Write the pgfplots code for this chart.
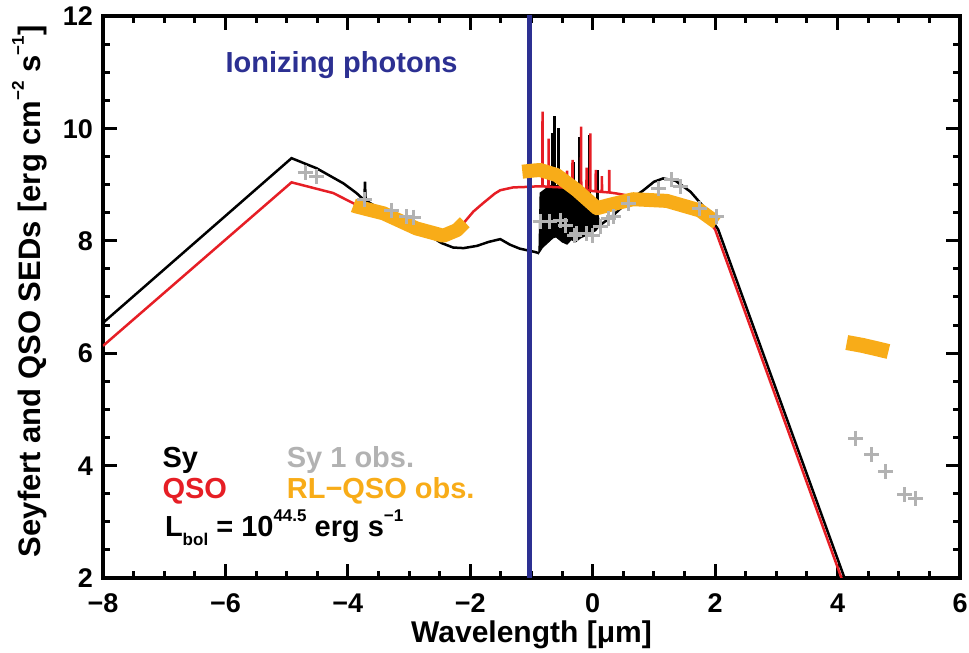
\documentclass[border=0pt]{standalone}
\usepackage{fontspec}
\setmainfont{Liberation Sans}
\usepackage{pgfplots}
\pgfplotsset{compat=1.18}
\definecolor{qred}{RGB}{230,30,37}
\definecolor{qorange}{RGB}{248,172,24}
\definecolor{qgray}{RGB}{178,178,178}
\definecolor{qblue}{RGB}{44,48,146}
\newcommand\sups[2][17bp]{\raisebox{0.52em}{\fontsize{#1}{#1}\selectfont #2}}
\newcommand\subs[2][17bp]{\raisebox{-0.3em}{\fontsize{#1}{#1}\selectfont #2}}
\begin{document}
\begin{tikzpicture}[font=\bfseries]
\useasboundingbox (-103bp,-75bp) rectangle (866bp,578bp);
\begin{axis}[
  at={(0,0)}, anchor=south west,
  scale only axis, width=857bp, height=562bp,
  xmin=-8, xmax=6, ymin=2, ymax=12,
  xtick={-8,-6,-4,-2,0,2,4,6},
  xticklabels={−8,−6,−4,−2,0,2,4,6},
  ytick={2,4,6,8,10,12},
  yticklabels={2,4,6,8,10,12},
  minor x tick num=3, minor y tick num=3,
  axis line style={line width=3.5bp},
  tick style={line width=3bp, black},
  major tick length=14bp, minor tick length=7bp,
  tick label style={font=\fontsize{27bp}{29bp}\selectfont\bfseries,
    text height=19.3bp, text depth=0pt, inner sep=0pt},
  xticklabel style={anchor=north, yshift=-15bp},
  yticklabel style={anchor=east, xshift=-10bp},
  label style={font=\fontsize{30bp}{32bp}\selectfont\bfseries},
  xlabel={Wavelength [μm]},
  ylabel={\fontsize{31bp}{33bp}\selectfont Seyfert and QSO SEDs [erg cm\sups[17bp]{−2} s\sups[17bp]{−1}]},
  xlabel style={at={(axis description cs:0.5,-0.101)}, anchor=center, inner sep=0pt},
  ylabel style={at={(axis description cs:-0.086,0.51)}, anchor=center},
  unbounded coords=jump,
]
% Sy (black) continuum
\addplot[black, line width=2.5bp] coordinates {
(-8,6.54) (-4.92,9.47) (-4.51,9.29) (-4.07,9.02) (-3.86,8.85) (-3.77,8.76)
(-3.73,8.74) (-3.72,9.05) (-3.71,8.72) (-3.5,8.58) (-3.2,8.42) (-2.9,8.25)
(-2.65,8.08) (-2.47,7.96) (-2.28,7.88) (-2.11,7.87) (-1.89,7.91) (-1.7,7.98)
(-1.51,8.03) (-1.35,7.93) (-1.19,7.86) (-0.94,7.80) (-0.88,7.78)
};
% Sy line forest
\addplot[black, fill=black, line width=1bp] coordinates {
(-0.88,7.78) (-0.86,8.85) (-0.7,8.98) (-0.5,8.98) (-0.3,8.93) (-0.15,8.83)
(0.0,8.68) (0.08,8.5) (0.12,8.3) (0.12,8.28) (0.05,8.18) (0.0,8.15)
(-0.1,8.10) (-0.2,8.05) (-0.28,7.98) (-0.35,8.02) (-0.42,7.94) (-0.5,7.98)
(-0.6,8.07) (-0.65,8.05) (-0.75,7.95) (-0.82,7.88) (-0.88,7.78)
} -- cycle;
\addplot[black, line width=3bp] coordinates {
(-0.65,8.7) (-0.65,9.91) (-0.65,nan)
(-0.62,8.7) (-0.62,10.22) (-0.62,nan)
(-0.56,8.7) (-0.56,10.0) (-0.56,nan)
(-0.32,8.7) (-0.32,9.41) (-0.32,nan)
(-0.21,8.7) (-0.21,9.85) (-0.21,nan)
(-0.06,8.6) (-0.06,9.88) (-0.06,nan)
(0.07,8.5) (0.07,9.26)
};
\addplot[black, line width=2.5bp] coordinates {
(0.12,8.28) (0.3,8.42) (0.5,8.62) (0.7,8.8) (0.83,8.90) (1.0,9.05)
(1.15,9.11) (1.35,9.07) (1.6,8.87) (1.8,8.62) (1.97,8.33) (2.05,8.2) (4.13,1.95)
};
% QSO (red)
\addplot[qred, line width=2.5bp] coordinates {
(-8,6.13) (-4.92,9.04) (-4.24,8.85) (-3.86,8.64) (-3.4,8.45) (-2.9,8.22)
(-2.45,8.05) (-2.25,8.1) (-2.09,8.34) (-1.95,8.52) (-1.79,8.67) (-1.6,8.84)
(-1.51,8.90) (-1.3,8.95) (-1.04,8.96) (-0.9,8.97)
(-0.823,8.97) (-0.82,10.30) (-0.817,8.97)
(-0.723,8.96) (-0.72,9.82) (-0.717,8.96)
(-0.503,8.95) (-0.5,9.2) (-0.497,8.95)
(-0.423,8.94) (-0.42,9.25) (-0.417,8.94)
(-0.333,8.93) (-0.33,9.44) (-0.327,8.93)
(-0.193,8.91) (-0.19,10.03) (-0.187,8.91)
(-0.103,8.90) (-0.1,9.3) (-0.097,8.90)
(-0.043,8.89) (-0.04,9.91) (-0.037,8.89)
(0.047,8.88) (0.05,9.26) (0.053,8.88)
(0.147,8.87) (0.15,9.15) (0.153,8.87)
(0.267,8.86) (0.27,9.26) (0.273,8.86)
(0.4,8.84) (0.6,8.8) (0.9,8.78) (1.2,8.76) (1.45,8.7) (1.65,8.6)
(1.85,8.42) (2.0,8.2) (4.08,1.95)
};
% Lyman limit
\addplot[qblue, line width=5bp] coordinates {(-1.04,1.9) (-1.04,12.1)};
% RL-QSO obs (orange)
\addplot[qorange, line width=14bp, line join=round] coordinates {
(-3.91,8.63) (-3.86,8.61) (-3.42,8.49) (-2.88,8.22) (-2.44,8.09) (-2.22,8.19) (-2.09,8.33)
};
\addplot[qorange, line width=14bp, line join=round] coordinates {
(-1.15,9.23) (-0.97,9.25) (-0.86,9.26) (-0.59,9.17) (-0.26,8.90) (0.07,8.58)
(0.28,8.64) (0.66,8.74) (1.21,8.71) (1.75,8.54) (2.03,8.32)
};
\addplot[qorange, line width=15bp, line join=round] coordinates {
(4.15,6.19) (4.4,6.14) (4.6,6.09) (4.83,6.03)
};
% Sy 1 obs (gray)
\addplot[only marks, mark=+, mark size=7.5bp, qgray, mark options={line width=3bp}] coordinates {
(-4.70,9.22) (-4.51,9.14) (-3.72,8.73) (-3.28,8.54) (-3.04,8.43) (-2.93,8.42)
(-0.86,8.34) (-0.70,8.34) (-0.53,8.37) (-0.45,8.28) (-0.30,8.10) (-0.26,8.13)
(-0.10,8.13) (0.0,8.1) (0.12,8.25) (0.26,8.40) (0.34,8.43) (0.58,8.67)
(1.07,8.93) (1.29,9.09) (1.43,8.96) (1.75,8.58) (2.03,8.44)
(4.30,4.49) (4.56,4.19) (4.79,3.89) (5.10,3.48) (5.27,3.42)
};
% annotations
\begin{scope}[every node/.style={font=\fontsize{29bp}{31bp}\selectfont\bfseries, inner sep=0pt}]
\node[anchor=base west, text=qblue] at (axis cs:-6.0,10.99) {Ionizing photons};
\node[anchor=base west, text=black] at (axis cs:-7.03,3.96) {Sy};
\node[anchor=base west, text=qred] at (axis cs:-7.03,3.42) {QSO};
\node[anchor=base west, text=qgray] at (axis cs:-5.0,3.96) {Sy 1 obs.};
\node[anchor=base west, text=qorange] at (axis cs:-5.0,3.42) {RL−QSO obs.};
\node[anchor=base west, text=black] at (axis cs:-6.99,2.73) {L\subs{bol} = 10\sups{44.5} erg s\sups{−1}};
\end{scope}
\end{axis}
\end{tikzpicture}
\end{document}
